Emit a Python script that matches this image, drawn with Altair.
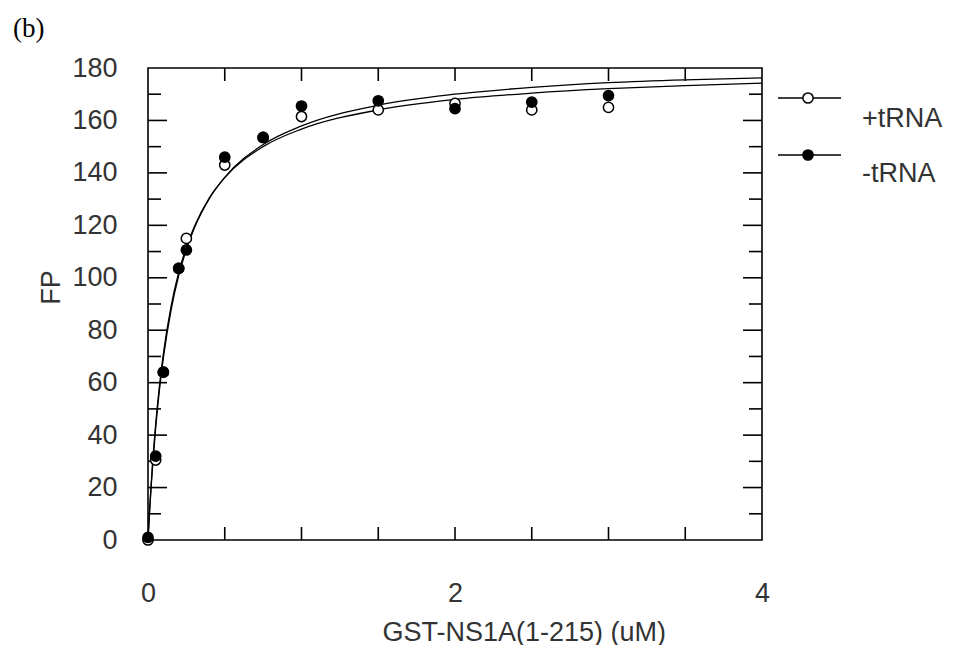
import altair as alt
import pandas as pd

# ---- data ----
series_names = ["+tRNA", "-tRNA"]
conc = [0, 0.05, 0.1, 0.2, 0.25, 0.5, 0.75, 1.0, 1.5, 2.0, 2.5, 3.0]
fp_plus = [0, 30.5, 64, 103.6, 115, 143, 153.5, 161.5, 164, 166.5, 164, 165]
fp_minus = [1, 32, 64, 103.6, 110.6, 146, 153.5, 165.5, 167.5, 164.5, 167, 169.5]

fit_x = [0, 0.01, 0.02, 0.03, 0.05, 0.075, 0.1, 0.15, 0.2, 0.25, 0.3, 0.4, 0.5,
         0.75, 1.0, 1.5, 2.0, 2.5, 3.0, 3.5, 4.0]
fit_plus = [0, 11.0, 20.7, 29.4, 44.1, 59.0, 71.0, 89.0, 102.0, 111.7, 119.3, 130.5,
            138.2, 150.0, 156.7, 164.0, 168.0, 170.4, 172.1, 173.3, 174.2]
fit_minus = [0, 10.5, 19.9, 28.3, 42.8, 57.5, 69.4, 87.6, 100.8, 110.8, 118.7, 130.3,
             138.3, 150.8, 157.9, 165.8, 170.0, 172.6, 174.4, 175.5, 176.2]

x_tick_vals = [0.5, 1.0, 1.5, 2.0, 2.5, 3.0, 3.5]
x_label_vals = [0, 2, 4]
y_label_vals = [0, 20, 40, 60, 80, 100, 120, 140, 160, 180]
y_major_ticks = [20, 40, 60, 80, 100, 120, 140, 160]
y_minor_ticks = [10, 30, 50, 70, 90, 110, 130, 150, 170]

x_title = "GST-NS1A(1-215) (uM)"
y_title = "FP"
panel_label = "(b)"

# ---- layout / style ----
W, H = 614, 472
FONT = "Liberation Sans"
TXT = "#333333"
FS = 27

xs = alt.Scale(domain=[0, 4], nice=False, zero=False)
ys = alt.Scale(domain=[0, 180], nice=False, zero=False)

xaxis = alt.Axis(values=x_label_vals, grid=False, domain=False, ticks=False, tickSize=0,
                 labelFont=FONT, labelFontSize=FS, labelColor=TXT, labelPadding=40,
                 labelFlush=False, labelOverlap=False, format="d",
                 title=x_title, titleFont=FONT, titleFontSize=FS, titleFontWeight="normal",
                 titleColor=TXT, titleX=234, titleY=100, titleAlign="left",
                 titleBaseline="alphabetic")
yaxis = alt.Axis(values=y_label_vals, grid=False, domain=False, ticks=False, tickSize=0,
                 labelFont=FONT, labelFontSize=FS, labelColor=TXT, labelPadding=31,
                 labelOverlap=False, format="d",
                 title=y_title, titleFont=FONT, titleFontSize=FS, titleFontWeight="normal",
                 titleColor=TXT, titleAngle=270, titleX=-89, titleY=219,
                 titleAlign="center", titleBaseline="alphabetic")

X = lambda: alt.X("x:Q", scale=xs, axis=xaxis)
Y = lambda: alt.Y("y:Q", scale=ys, axis=yaxis)

fit_df = pd.DataFrame({
    "x": fit_x + fit_x,
    "y": fit_plus + fit_minus,
    "series": [series_names[0]] * len(fit_x) + [series_names[1]] * len(fit_x),
})
plus_df = pd.DataFrame({"x": conc, "y": fp_plus})
minus_df = pd.DataFrame({"x": conc, "y": fp_minus})

lines = alt.Chart(fit_df).mark_line(color="black", strokeWidth=1.3, interpolate="monotone").encode(
    x=X(), y=Y(), detail="series:N")

pt_style = dict(shape="circle", filled=True, stroke="black", strokeWidth=1.5, size=105, opacity=1)
open_pts = alt.Chart(plus_df).mark_point(fill="white", **pt_style).encode(x=X(), y=Y())
filled_pts = alt.Chart(minus_df).mark_point(fill="black", **pt_style).encode(x=X(), y=Y())

# inward ticks on all four sides
xt_df = pd.DataFrame({"x": x_tick_vals})
ymaj_df = pd.DataFrame({"y": y_major_ticks})
ymin_df = pd.DataFrame({"y": y_minor_ticks})
tick_style = dict(color="black", strokeWidth=1.6)
ticks = [
    alt.Chart(xt_df).mark_rule(**tick_style).encode(x=X(), y=alt.value(H), y2=alt.value(H - 13)),
    alt.Chart(xt_df).mark_rule(**tick_style).encode(x=X(), y=alt.value(0), y2=alt.value(13)),
    alt.Chart(ymaj_df).mark_rule(**tick_style).encode(y=Y(), x=alt.value(0), x2=alt.value(19)),
    alt.Chart(ymaj_df).mark_rule(**tick_style).encode(y=Y(), x=alt.value(W), x2=alt.value(W - 19)),
    alt.Chart(ymin_df).mark_rule(**tick_style).encode(y=Y(), x=alt.value(0), x2=alt.value(13)),
    alt.Chart(ymin_df).mark_rule(**tick_style).encode(y=Y(), x=alt.value(W), x2=alt.value(W - 13)),
]

# manual legend
leg = []
rows = [(30, 59, "white"), (87, 114, "black")]
for name, (ly, ty, fillc) in zip(series_names, rows):
    d = pd.DataFrame({"label": [name]})
    leg.append(alt.Chart(d).mark_rule(color="black", strokeWidth=1.3).encode(
        x=alt.value(630), x2=alt.value(693), y=alt.value(ly)))
    leg.append(alt.Chart(d).mark_point(fill=fillc, **pt_style).encode(
        x=alt.value(660), y=alt.value(ly)))
    leg.append(alt.Chart(d).mark_text(font=FONT, fontSize=FS, color=TXT, align="left",
                                      baseline="alphabetic").encode(
        x=alt.value(714), y=alt.value(ty), text="label:N"))

panel = alt.Chart(pd.DataFrame({"t": [panel_label]})).mark_text(
    font="Liberation Serif", fontSize=27, color="black", align="left", baseline="alphabetic"
).encode(x=alt.value(-135), y=alt.value(-31), text="t:N")

chart = alt.layer(lines, *ticks, open_pts, filled_pts, *leg, panel).properties(
    width=W, height=H,
    autosize=alt.AutoSizeParams(type="none"),
    padding={"left": 140, "top": 60, "right": 185, "bottom": 105},
    background="white",
).configure_view(stroke="black", strokeWidth=1.6)

chart.save("out.html", embed_options={"renderer": "svg", "actions": False})
